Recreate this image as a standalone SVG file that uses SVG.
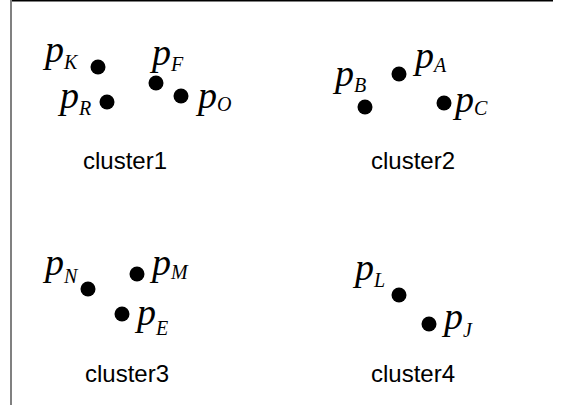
<svg xmlns="http://www.w3.org/2000/svg" width="562" height="405" viewBox="0 0 562 405">
<style>
.p{font-family:"Liberation Serif",serif;font-style:italic;font-size:38px;fill:#000}
.s{font-size:20px}
.c{font-family:"Liberation Sans",Arial,sans-serif;font-size:24px;fill:#000;text-anchor:middle}
.d{fill:#000}
</style>
<rect width="562" height="405" fill="#fff"/>
<g id="frame">
<line x1="11" y1="0.75" x2="553" y2="0.75" stroke="#000" stroke-width="1.5"/>
<line x1="11" y1="0" x2="11" y2="405" stroke="#808080" stroke-width="2"/>
</g>
<g id="connectors"/>
<g id="cluster1">
<g id="pK"><circle class="d" cx="98" cy="67" r="7.5"/><text class="p" x="45" y="62">p<tspan class="s" y="69">K</tspan></text></g>
<g id="pR"><circle class="d" cx="107" cy="102" r="7.5"/><text class="p" x="60" y="108">p<tspan class="s" y="115">R</tspan></text></g>
<g id="pF"><circle class="d" cx="156" cy="83" r="7.5"/><text class="p" x="152" y="65">p<tspan class="s" y="71">F</tspan></text></g>
<g id="pO"><circle class="d" cx="181" cy="96" r="7.5"/><text class="p" x="198" y="108">p<tspan class="s" y="111">O</tspan></text></g>
<text class="c" x="125" y="169">cluster1</text>
</g>
<g id="cluster2">
<g id="pB"><circle class="d" cx="365" cy="107" r="7.5"/><text class="p" x="335" y="86">p<tspan class="s" y="92">B</tspan></text></g>
<g id="pA"><circle class="d" cx="399" cy="74" r="7.5"/><text class="p" x="415" y="68">p<tspan class="s" y="72">A</tspan></text></g>
<g id="pC"><circle class="d" cx="444" cy="103" r="7.5"/><text class="p" x="455" y="112">p<tspan class="s" y="115">C</tspan></text></g>
<text class="c" x="413" y="169">cluster2</text>
</g>
<g id="cluster3">
<g id="pN"><circle class="d" cx="88" cy="289" r="7.5"/><text class="p" x="45" y="275">p<tspan class="s" y="283">N</tspan></text></g>
<g id="pM"><circle class="d" cx="137" cy="274" r="7.5"/><text class="p" x="152" y="275">p<tspan class="s" y="279">M</tspan></text></g>
<g id="pE"><circle class="d" cx="122" cy="314" r="7.5"/><text class="p" x="137" y="325">p<tspan class="s" y="335">E</tspan></text></g>
<text class="c" x="127" y="382">cluster3</text>
</g>
<g id="cluster4">
<g id="pL"><circle class="d" cx="399" cy="295" r="7.5"/><text class="p" x="355" y="280">p<tspan class="s" y="287">L</tspan></text></g>
<g id="pJ"><circle class="d" cx="429" cy="324" r="7.5"/><text class="p" x="444" y="329">p<tspan class="s" y="337">J</tspan></text></g>
<text class="c" x="413" y="382">cluster4</text>
</g>
</svg>
